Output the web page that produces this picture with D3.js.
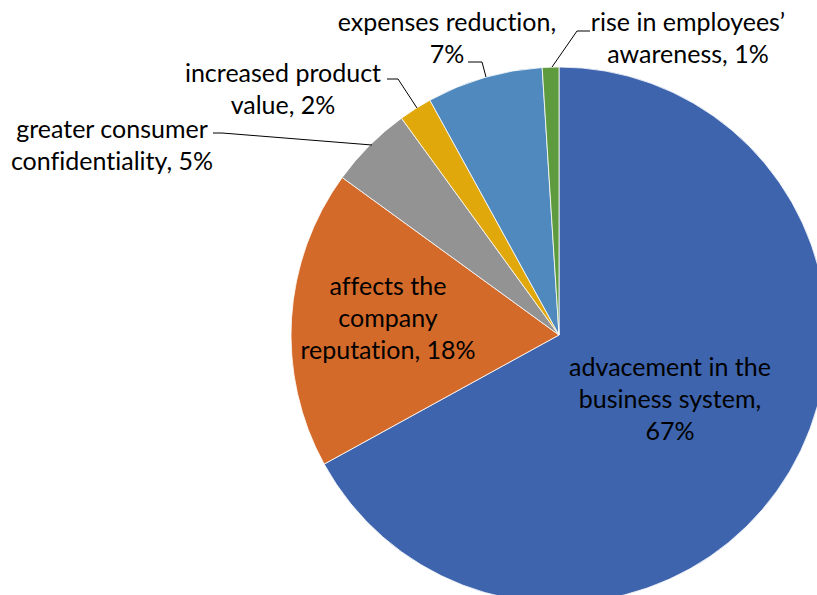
<!DOCTYPE html>
<html><head><meta charset="utf-8">
<script src="https://cdn.jsdelivr.net/npm/d3@7"></script>
<style>html,body{margin:0;padding:0;background:#fff;overflow:hidden} text{font-variant-ligatures:none;font-feature-settings:"liga" 0}</style>
</head><body>
<svg id="c" width="817" height="595"></svg>
<script>
const categories = ["advacement in the business system", "affects the company reputation", "greater consumer confidentiality", "increased product value", "expenses reduction", "rise in employees’ awareness"];
const values = [67, 18, 5, 2, 7, 1];
const labelLines = [
  ["advacement in the", "business system,", "67%"],
  ["affects the", "company", "reputation, 18%"],
  ["greater consumer", "confidentiality, 5%"],
  ["increased product", "value, 2%"],
  ["expenses reduction,", "7%"],
  ["rise in employees’", "awareness, 1%"]
];
const colors = ["#3E64AD", "#D46A2A", "#939393", "#E1A80C", "#4F89BD", "#5E9A3E"];
// label layout (centre x, first line centre y)
const labelPos = [[670, 367], [388, 286], [112, 129], [283, 73], [447, 22], [688, 22]];
// leader lines (polyline points), null when label inside
const leaders = [null, null,
  [[213,133],[222,133],[372,145]],
  [[387,79],[398,79],[417,108]],
  [[468,62],[482,62],[486,77]],
  [[590,31],[577,31],[552,67]]];

const svg = d3.select("#c");
const cx = 559, cy = 335, r = 268;
const pie = d3.pie().sort(null).value(d => d)(values);
const arc = d3.arc().innerRadius(0).outerRadius(r);
const g = svg.append("g").attr("transform", `translate(${cx},${cy})`);
g.selectAll("path").data(pie).join("path")
  .attr("d", arc).attr("fill", (d, i) => colors[i])
  .attr("stroke", "#fff").attr("stroke-width", 0.8);

svg.selectAll("polyline.lead").data(leaders.filter(l => l)).join("polyline")
  .attr("class", "lead")
  .attr("points", d => d.map(p => p.join(",")).join(" "))
  .attr("fill", "none").attr("stroke", "#000").attr("stroke-width", 1);

const lh = 32;
labelLines.forEach((lines, i) => {
  const t = svg.append("text")
    .attr("text-anchor", "middle")
    .attr("font-family", "Lato, 'Open Sans', sans-serif")
    .attr("font-size", 25).attr("fill", "#000");
  lines.forEach((s, j) => {
    t.append("tspan").attr("x", labelPos[i][0]).attr("y", labelPos[i][1] + j * lh)
      .attr("dy", "0.35em").text(s);
  });
});
</script>
</body></html>
